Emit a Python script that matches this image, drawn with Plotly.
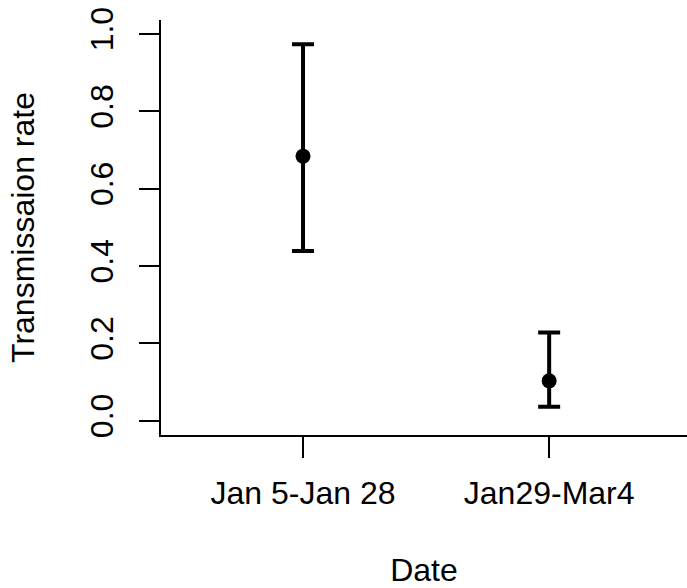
import plotly.graph_objects as go

categories = ["Jan 5-Jan 28", "Jan29-Mar4"]
estimate = [0.684, 0.103]
upper = [0.973, 0.228]
lower = [0.439, 0.036]
y_ticks = [0.0, 0.2, 0.4, 0.6, 0.8, 1.0]
y_ticklabels = ["0.0", "0.2", "0.4", "0.6", "0.8", "1.0"]

err_plus = [u - e for u, e in zip(upper, estimate)]
err_minus = [e - l for e, l in zip(estimate, lower)]

FONT = "Liberation Sans, Arial, Helvetica, sans-serif"

fig = go.Figure(
    go.Scatter(
        x=categories,
        y=estimate,
        mode="markers",
        marker=dict(color="black", size=15),
        error_y=dict(
            type="data",
            symmetric=False,
            array=err_plus,
            arrayminus=err_minus,
            color="black",
            thickness=4,
            width=11,
        ),
        showlegend=False,
    )
)

fig.update_layout(
    width=687,
    height=588,
    margin=dict(l=161, r=0, t=20, b=153),
    paper_bgcolor="white",
    plot_bgcolor="white",
    font=dict(family=FONT, size=32, color="black"),
)

fig.update_xaxes(
    type="category",
    range=[-0.577, 1.56],
    showline=True,
    linecolor="black",
    linewidth=2,
    ticks="outside",
    ticklen=21,
    tickwidth=2,
    tickcolor="black",
    showgrid=False,
    zeroline=False,
    tickfont=dict(size=32),
    ticklabelstandoff=8,
    title=dict(text="Date", font=dict(size=32), standoff=50),
)

fig.update_yaxes(
    range=[-0.037, 1.036],
    tickvals=y_ticks,
    ticktext=y_ticklabels,
    tickangle=-90,
    showline=True,
    linecolor="black",
    linewidth=2,
    ticks="outside",
    ticklen=20,
    tickwidth=2,
    tickcolor="black",
    showgrid=False,
    zeroline=False,
    tickfont=dict(size=32),
    ticklabelstandoff=13,
    title=dict(text="Transmissaion rate", font=dict(size=32), standoff=40),
)

fig.write_html("out.html")
